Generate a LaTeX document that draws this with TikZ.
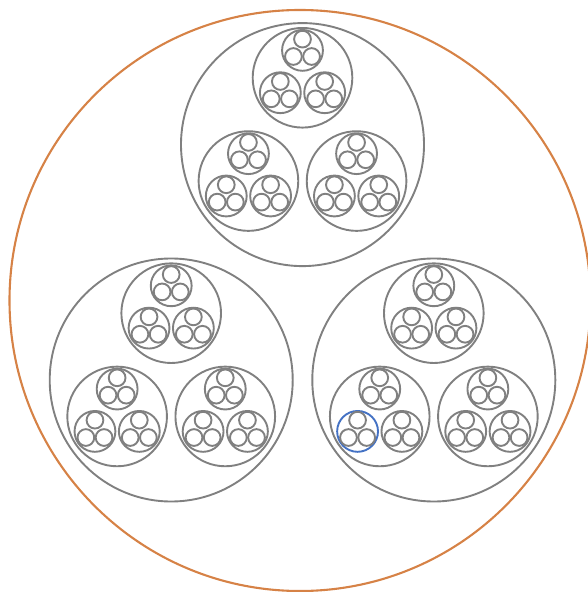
\documentclass[tikz,border=0pt]{standalone}
\definecolor{rimorange}{RGB}{214,130,70}
\definecolor{ringgray}{RGB}{128,128,128}
\definecolor{pickblue}{RGB}{68,114,196}
\begin{document}
\begin{tikzpicture}[
                x=0.5pt, y=-0.5pt,
                rim/.style={draw=rimorange, line width=1.05pt},
                ring/.style={draw=ringgray, line width=0.95pt},
                picked/.style={draw=pickblue, line width=0.95pt}]
        % First-level circles, placed round the middle of the picture.
        \def\tops{0/-156.9, -131.3/78.5, 131.3/78.5}
        % Children of every smaller circle: top, lower left, lower right (unit = parent radius).
        \def\kids{0/-0.55, -0.445/0.30, 0.445/0.30}
        \def\shrink{0.41}
        \useasboundingbox (0,0) rectangle (587,592);

        % Outer orange boundary.
        \draw[rim] (300,300.5) circle[radius=290.5];

        % Four nested levels of gray circles; one third-level circle is picked out in blue.
        \begin{scope}[shift={(302.5,301.5)}]
        \foreach \ax/\ay [count=\i] in \tops {
          \begin{scope}[shift={(\ax,\ay)}, scale=121.5]
            \draw[ring] (0,0) circle[radius=1];
            \foreach \bx/\by [count=\j] in \kids {
              \begin{scope}[shift={(\bx,\by)}, scale=\shrink]
                \draw[ring] (0,0) circle[radius=1];
                \foreach \cx/\cy [count=\k] in \kids {
                  \begin{scope}[shift={(\cx,\cy)}, scale=\shrink]
                    \ifnum\i\j\k=322
                      \draw[picked] (0,0) circle[radius=1];
                    \else
                      \draw[ring] (0,0) circle[radius=1];
                    \fi
                    \foreach \px/\py in \kids {
                      \draw[ring] (\px,\py) circle[radius=\shrink];
                    }
                  \end{scope}
                }
              \end{scope}
            }
          \end{scope}
        }
        \end{scope}
\end{tikzpicture}
\end{document}
